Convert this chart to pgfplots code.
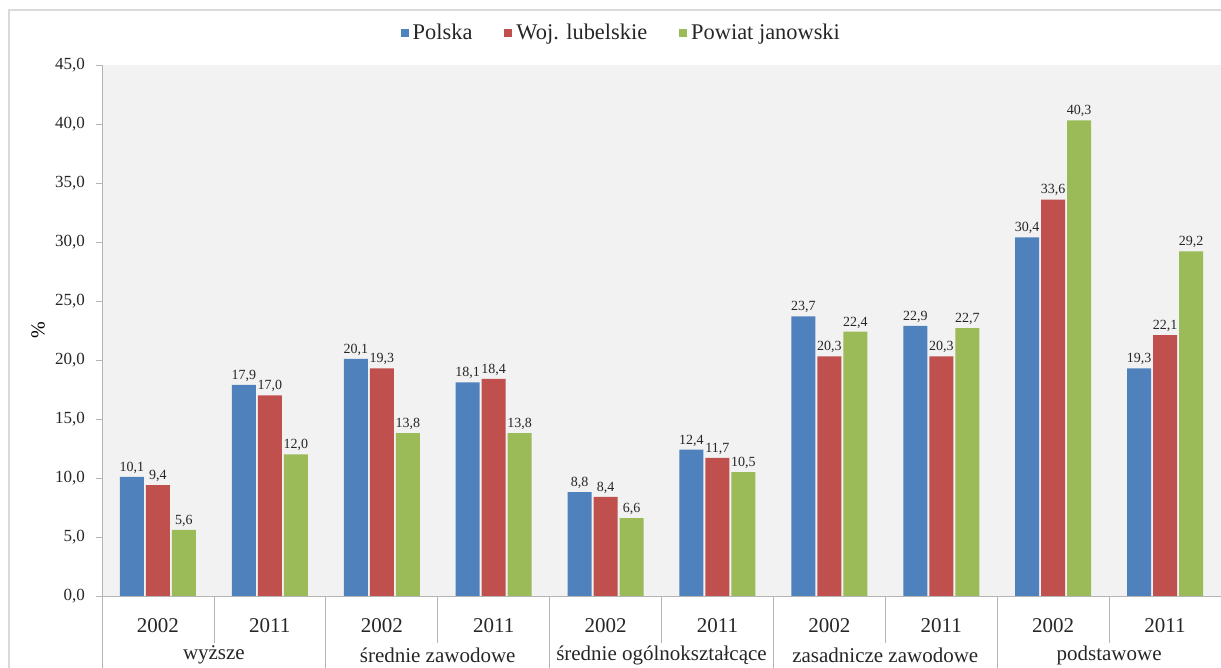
\documentclass[border=0pt]{standalone}
\usepackage{pgfplots}
\pgfplotsset{compat=1.18}
\usepackage{pgfplotstable}
\usepackage{fontspec}
\setmainfont{Liberation Serif}
\setsansfont{Liberation Serif}
\definecolor{cblue}{HTML}{4F81BD}
\definecolor{cred}{HTML}{C0504D}
\definecolor{cgreen}{HTML}{9BBB59}
\definecolor{plotbg}{HTML}{F2F2F2}
\definecolor{axgray}{HTML}{B4B4B4}
\definecolor{framegray}{HTML}{D9D9D9}
\pgfplotstableread{
x pl woj pow
0 10.1 9.4 5.6
1 17.9 17.0 12.0
2 20.1 19.3 13.8
3 18.1 18.4 13.8
4 8.8 8.4 6.6
5 12.4 11.7 10.5
6 23.7 20.3 22.4
7 22.9 20.3 22.7
8 30.4 33.6 40.3
9 19.3 22.1 29.2
}\datatable
\begin{document}
\begin{tikzpicture}
\useasboundingbox (0,0) rectangle (610.5pt,334pt);
\draw[framegray, line width=1pt] (4.5pt,0pt) -- (4.5pt,329pt) -- (610.5pt,329pt);
\begin{axis}[
  at={(51pt,36pt)}, anchor=south west,
  scale only axis, width=559.5pt, height=265.5pt,
  clip=false,
  ybar=1pt, bar width=12pt,
  xmin=-0.5, xmax=9.5, ymin=0, ymax=45,
  ytick={0,5,...,45},
  xtick={0,...,9},
  xticklabels={2002,2011,2002,2011,2002,2011,2002,2011,2002,2011},
  xtick style={draw=none},
  xticklabel style={anchor=center, yshift=-12pt, font=\rmfamily\fontsize{10.5}{12}\selectfont, text=black!85},
  ytick style={draw=axgray},
  tick align=outside, major tick length=3pt,
  yticklabel style={font=\rmfamily\fontsize{8.5}{10}\selectfont, text=black!85, xshift=-2pt},
  /pgf/number format/.cd, fixed, fixed zerofill, precision=1, use comma, assume math mode=true,
  /pgfplots/.cd,
  axis x line*=bottom, axis y line*=left,
  axis line style={draw=axgray},
  axis background/.style={fill=plotbg},
  ylabel={\%},
  ylabel style={at={(axis description cs:-0.057,0.5)}, anchor=center, rotate=0, font=\rmfamily\fontsize{10}{12}\selectfont},
  nodes near coords,
  every node near coord/.append style={font=\rmfamily\fontsize{7}{8}\selectfont, inner sep=1.5pt, text=black!85},
  legend style={draw=none, fill=none, at={(0.465,1.06)}, anchor=center,
    legend columns=3, font=\rmfamily\fontsize{11.2}{13}\selectfont, text=black!85,
    /tikz/every even column/.append style={column sep=14pt},
    /tikz/every odd column/.append style={column sep=0pt}},
  legend image code/.code={\fill[#1] (0pt,-2pt) rectangle (4pt,2pt);},
]
\addplot[fill=cblue, draw=none] table[x=x, y=pl] {\datatable};
\addplot[fill=cred, draw=none] table[x=x, y=woj] {\datatable};
\addplot[fill=cgreen, draw=none] table[x=x, y=pow] {\datatable};
\legend{Polska, Woj. lubelskie, Powiat janowski}
% separators
\draw[axgray] (axis cs:-0.5,0) -- ++(0pt,-36pt);
\pgfplotsinvokeforeach{0.5,2.5,4.5,6.5,8.5}{\draw[axgray] (axis cs:#1,0) -- ++(0pt,-23.5pt);}
\pgfplotsinvokeforeach{1.5,3.5,5.5,7.5,9.5}{\draw[axgray] (axis cs:#1,0) -- ++(0pt,-36pt);}
\begin{scope}[every node/.style={font=\rmfamily\fontsize{10.5}{12}\selectfont, text=black!85, anchor=center}]
\node at ([yshift=-29.5pt]axis cs:0.5,0) {wyższe};
\node at ([yshift=-29.5pt]axis cs:2.5,0) {średnie zawodowe};
\node at ([yshift=-29.5pt]axis cs:4.5,0) {średnie ogólnokształcące};
\node at ([yshift=-29.5pt]axis cs:6.5,0) {zasadnicze zawodowe};
\node at ([yshift=-29.5pt]axis cs:8.5,0) {podstawowe};
\end{scope}
\end{axis}
\end{tikzpicture}
\end{document}
